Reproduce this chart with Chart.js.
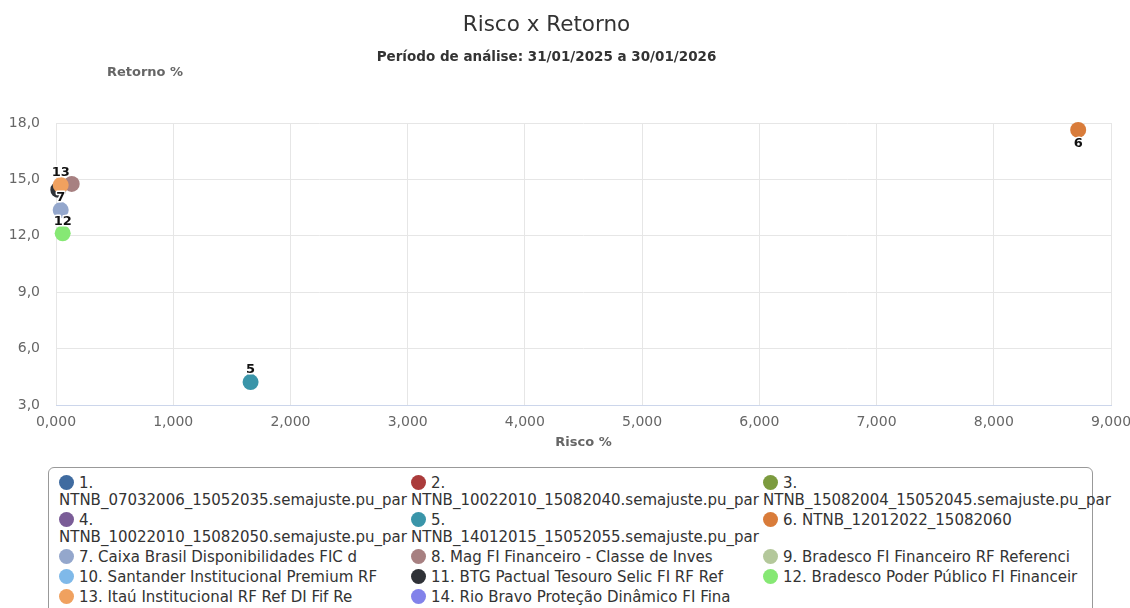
<!DOCTYPE html>
<html>
<head>
<meta charset="utf-8">
<script src="https://cdn.jsdelivr.net/npm/chart.js@4"></script>
<style>
  body { margin: 0; background: #fff; font-family: 'DejaVu Sans', sans-serif; }
  #wrap { position: relative; width: 1130px; height: 462px; }
  .head { position: absolute; left: 0; width: 1093px; text-align: center; color: #333; }
  #title { top: 11px; font-size: 21.5px; line-height: 26px; }
  #subtitle { top: 48px; font-size: 13.5px; line-height: 16px; font-weight: bold; }
  #legend {
    position: absolute; left: 48px; top: 467px; width: 1045px; height: 160px;
    box-sizing: border-box;
    border: 1px solid #999; border-radius: 6px; padding: 7px 0 0 10px;
    display: grid; grid-template-columns: repeat(3, 352px); align-content: start;
    font-size: 15px; line-height: 17px; color: #333;
  }
  .item { margin-bottom: 3px; }
  .dot { display: inline-block; width: 15px; height: 15px; border-radius: 50%;
         vertical-align: -2px; margin-right: 5px; }
</style>
</head>
<body>
<div id="wrap">
  <canvas id="chart"></canvas>
  <div class="head" id="title">Risco x Retorno</div>
  <div class="head" id="subtitle">Período de análise: 31/01/2025 a 30/01/2026</div>
</div>
<div id="legend"></div>
<script>
// Series names (legend) and colours
const seriesNames = [
  '1. NTNB_07032006_15052035.semajuste.pu_par',
  '2. NTNB_10022010_15082040.semajuste.pu_par',
  '3. NTNB_15082004_15052045.semajuste.pu_par',
  '4. NTNB_10022010_15082050.semajuste.pu_par',
  '5. NTNB_14012015_15052055.semajuste.pu_par',
  '6. NTNB_12012022_15082060',
  '7. Caixa Brasil Disponibilidades FIC d',
  '8. Mag FI Financeiro - Classe de Inves',
  '9. Bradesco FI Financeiro RF Referenci',
  '10. Santander Institucional Premium RF',
  '11. BTG Pactual Tesouro Selic FI RF Ref',
  '12. Bradesco Poder Público FI Financeir',
  '13. Itaú Institucional RF Ref DI Fif Re',
  '14. Rio Bravo Proteção Dinâmico FI Fina'
];
const seriesColors = [
  '#3f6ba0', '#aa3b3b', '#7c9b3f', '#7a5c97', '#3a95a9', '#d97c3a', '#94a7cc',
  '#a78081', '#b4c89b', '#7fb9e9', '#2f3237', '#86e874', '#f0a15f', '#8282ea'
];

// Risco (%) and Retorno (%) per series; null = no point shown
const risco   = [null, null, null, null, 1.66, 8.72, 0.04, 0.134, null, null, 0.02, 0.057, 0.04, null];
const retorno = [null, null, null, null, 4.22, 17.63, 13.37, 14.76, null, null, 14.45, 12.13, 14.70, null];

const xTicks = [0, 1, 2, 3, 4, 5, 6, 7, 8, 9];
const yTicks = [3, 6, 9, 12, 15, 18];

const font = "'DejaVu Sans', sans-serif";

// later series are painted on top (lower order = drawn last)
const datasets = seriesNames.map((name, i) => ({
  label: name,
  data: risco[i] === null ? [] : [{ x: risco[i], y: retorno[i] }],
  backgroundColor: seriesColors[i],
  borderWidth: 0,
  pointRadius: 8,
  pointHoverRadius: 8,
  clip: false,
  order: seriesNames.length - i
}));

// Draws point numbers (with white outline) and the "Retorno %" caption
const pointLabels = {
  id: 'pointLabels',
  afterDatasetsDraw(chart) {
    const ctx = chart.ctx;
    const area = chart.chartArea;
    const placed = [];
    ctx.save();
    ctx.font = 'bold 13px ' + font;
    ctx.textAlign = 'center';
    ctx.textBaseline = 'middle';
    ctx.lineJoin = 'round';
    // later series win when labels overlap
    for (let i = chart.data.datasets.length - 1; i >= 0; i--) {
      const meta = chart.getDatasetMeta(i);
      meta.data.forEach(pt => {
        const txt = String(i + 1);
        const w = ctx.measureText(txt).width;
        let y = pt.y - 12;
        if (y - 7 < area.top) y = pt.y + 14;
        const box = { l: pt.x - w / 2, r: pt.x + w / 2, t: y - 7, b: y + 7 };
        const hit = placed.some(p => box.l < p.r && box.r > p.l && box.t < p.b && box.b > p.t);
        if (hit) return;
        placed.push(box);
        ctx.strokeStyle = '#fff';
        ctx.lineWidth = 3;
        ctx.strokeText(txt, pt.x, y);
        ctx.fillStyle = '#111';
        ctx.fillText(txt, pt.x, y);
      });
    }
    ctx.font = 'bold 13px ' + font;
    ctx.fillStyle = '#666';
    ctx.fillText('Retorno %', area.left + 89, area.top - 50);
    ctx.restore();
  }
};

new Chart(document.getElementById('chart'), {
  type: 'scatter',
  data: { datasets },
  plugins: [pointLabels],
  options: {
    responsive: true,
    maintainAspectRatio: false,
    animation: false,
    layout: { padding: { top: 123, right: 0 } },
    events: [],
    plugins: {
      legend: { display: false },
      tooltip: { enabled: false }
    },
    scales: {
      x: {
        type: 'linear',
        min: xTicks[0],
        max: xTicks[xTicks.length - 1],
        afterBuildTicks: s => { s.ticks = xTicks.map(v => ({ value: v })); },
        afterFit: s => { s.height = 57; s.paddingLeft = 0; s.paddingRight = 19; },
        grid: { color: '#e6e6e6', drawTicks: false },
        border: { color: '#ccd6eb' },
        ticks: {
          padding: 9,
          color: '#666',
          font: { family: font, size: 14 },
          callback: v => v.toFixed(3).replace('.', ',')
        },
        title: {
          display: true,
          text: 'Risco %',
          color: '#666',
          font: { family: font, size: 13, weight: 'bold' },
          padding: { top: 0, bottom: 12 }
        }
      },
      y: {
        type: 'linear',
        min: yTicks[0],
        max: yTicks[yTicks.length - 1],
        afterBuildTicks: s => { s.ticks = yTicks.map(v => ({ value: v })); },
        afterFit: s => { s.width = 56; s.paddingTop = 0; s.paddingBottom = 0; },
        grid: { color: '#e6e6e6', drawTicks: false },
        border: { display: false },
        ticks: {
          padding: 16,
          color: '#666',
          font: { family: font, size: 14 },
          callback: v => v.toFixed(1).replace('.', ',')
        }
      }
    }
  }
});

// HTML legend in three columns
const legendEl = document.getElementById('legend');
seriesNames.forEach((name, i) => {
  const item = document.createElement('div');
  item.className = 'item';
  item.innerHTML = `<span class="dot" style="background:${seriesColors[i]}"></span>${name}`;
  legendEl.appendChild(item);
});
</script>
</body>
</html>
